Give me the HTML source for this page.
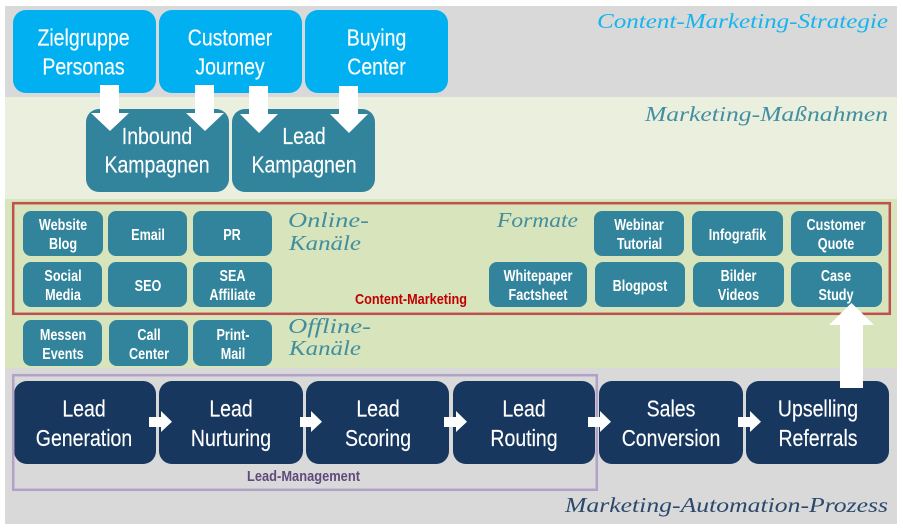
<!DOCTYPE html>
<html><head><meta charset="utf-8"><style>
html,body{margin:0;padding:0;background:#fff}
svg{display:block}
.b{font:23.5px "Liberation Sans",sans-serif;fill:#fff;stroke:#fff;stroke-width:.15;text-anchor:middle}
.s{font:bold 16px "Liberation Sans",sans-serif;fill:#fff;text-anchor:middle}
.h{font:italic 21px "Liberation Serif",serif;fill-opacity:.9}
</style></head><body>
<svg width="903" height="531" viewBox="0 0 903 531" xmlns="http://www.w3.org/2000/svg">
<rect width="903" height="531" fill="#fff"/>
<rect x="5" y="6" width="892" height="91" fill="#d9d9d9"/>
<rect x="5" y="97" width="892" height="102" fill="#ebf0de"/>
<rect x="5" y="199" width="892" height="169" fill="#d8e4bc"/>
<rect x="5" y="368" width="892" height="156" fill="#d9d9d9"/>

<g fill="#00b0f0">
<rect x="13" y="10" width="143" height="83" rx="13"/>
<rect x="159" y="10" width="143" height="83" rx="13"/>
<rect x="305" y="10" width="143" height="83" rx="13"/>
</g>
<g fill="#31849b">
<rect x="86" y="109" width="143" height="83" rx="13"/>
<rect x="232" y="109" width="143" height="83" rx="13"/>
<rect x="23" y="211" width="80" height="45" rx="8"/>
<rect x="108" y="211" width="79" height="45" rx="8"/>
<rect x="193" y="211" width="79" height="45" rx="8"/>
<rect x="23" y="262" width="79" height="45" rx="8"/>
<rect x="108" y="262" width="79" height="45" rx="8"/>
<rect x="193" y="262" width="79" height="45" rx="8"/>
<rect x="23" y="320" width="79" height="46" rx="8"/>
<rect x="109" y="320" width="79" height="46" rx="8"/>
<rect x="193" y="320" width="79" height="46" rx="8"/>
<rect x="594" y="211" width="90" height="45" rx="8"/>
<rect x="692" y="211" width="91" height="45" rx="8"/>
<rect x="791" y="211" width="91" height="45" rx="8"/>
<rect x="489" y="262" width="98" height="45" rx="8"/>
<rect x="595" y="262" width="90" height="45" rx="8"/>
<rect x="693" y="262" width="91" height="45" rx="8"/>
<rect x="791" y="262" width="91" height="45" rx="8"/>
</g>
<g fill="#17375e">
<rect x="14" y="381" width="142" height="83" rx="13"/>
<rect x="159" y="381" width="144" height="83" rx="13"/>
<rect x="306" y="381" width="143" height="83" rx="13"/>
<rect x="453" y="381" width="142" height="83" rx="13"/>
<rect x="599" y="381" width="144" height="83" rx="13"/>
<rect x="746" y="381" width="143" height="83" rx="13"/>
</g>

<rect x="13.2" y="203.2" width="876.6" height="110.6" fill="none" stroke="#c0504d" stroke-width="2.5"/>
<rect x="13.2" y="375.2" width="583.6" height="114.6" fill="none" stroke="#b3a2c7" stroke-width="2.5"/>

<g>
<text class="b" transform="translate(83.5,45.7) scale(.83,1)">Zielgruppe</text>
<text class="b" transform="translate(83.5,74.7) scale(.83,1)">Personas</text>
<text class="b" transform="translate(230,45.7) scale(.83,1)">Customer</text>
<text class="b" transform="translate(230,74.7) scale(.83,1)">Journey</text>
<text class="b" transform="translate(376.5,45.7) scale(.83,1)">Buying</text>
<text class="b" transform="translate(376.5,74.7) scale(.83,1)">Center</text>
<text class="b" transform="translate(157,144) scale(.83,1)">Inbound</text>
<text class="b" transform="translate(157,172.7) scale(.83,1)">Kampagnen</text>
<text class="b" transform="translate(304,144) scale(.83,1)">Lead</text>
<text class="b" transform="translate(304,172.7) scale(.83,1)">Kampagnen</text>
<text class="b" transform="translate(84,416.7) scale(.83,1)">Lead</text>
<text class="b" transform="translate(84,446) scale(.83,1)">Generation</text>
<text class="b" transform="translate(231,416.7) scale(.83,1)">Lead</text>
<text class="b" transform="translate(231,446) scale(.83,1)">Nurturing</text>
<text class="b" transform="translate(378,416.7) scale(.83,1)">Lead</text>
<text class="b" transform="translate(378,446) scale(.83,1)">Scoring</text>
<text class="b" transform="translate(524,416.7) scale(.83,1)">Lead</text>
<text class="b" transform="translate(524,446) scale(.83,1)">Routing</text>
<text class="b" transform="translate(671,416.7) scale(.83,1)">Sales</text>
<text class="b" transform="translate(671,446) scale(.83,1)">Conversion</text>
<text class="b" transform="translate(818,416.7) scale(.83,1)">Upselling</text>
<text class="b" transform="translate(818,446) scale(.83,1)">Referrals</text>
</g>

<g>
<text class="s" transform="translate(63,230) scale(.79,1)">Website</text>
<text class="s" transform="translate(63,249) scale(.79,1)">Blog</text>
<text class="s" transform="translate(148,240) scale(.79,1)">Email</text>
<text class="s" transform="translate(232,240) scale(.79,1)">PR</text>
<text class="s" transform="translate(63,281) scale(.79,1)">Social</text>
<text class="s" transform="translate(63,300) scale(.79,1)">Media</text>
<text class="s" transform="translate(148,291) scale(.79,1)">SEO</text>
<text class="s" transform="translate(232.5,281) scale(.79,1)">SEA</text>
<text class="s" transform="translate(232.5,300) scale(.79,1)">Affiliate</text>
<text class="s" transform="translate(63,340) scale(.79,1)">Messen</text>
<text class="s" transform="translate(63,359) scale(.79,1)">Events</text>
<text class="s" transform="translate(149,340) scale(.79,1)">Call</text>
<text class="s" transform="translate(149,359) scale(.79,1)">Center</text>
<text class="s" transform="translate(233,340) scale(.79,1)">Print-</text>
<text class="s" transform="translate(233,359) scale(.79,1)">Mail</text>
<text class="s" transform="translate(639,230) scale(.79,1)">Webinar</text>
<text class="s" transform="translate(639.5,249) scale(.79,1)">Tutorial</text>
<text class="s" transform="translate(737.5,240) scale(.79,1)">Infografik</text>
<text class="s" transform="translate(836,230) scale(.79,1)">Customer</text>
<text class="s" transform="translate(836,249) scale(.79,1)">Quote</text>
<text class="s" transform="translate(538,281) scale(.79,1)">Whitepaper</text>
<text class="s" transform="translate(538,300) scale(.79,1)">Factsheet</text>
<text class="s" transform="translate(640,291) scale(.79,1)">Blogpost</text>
<text class="s" transform="translate(738.5,281) scale(.79,1)">Bilder</text>
<text class="s" transform="translate(738.5,300) scale(.79,1)">Videos</text>
<text class="s" transform="translate(836,281) scale(.79,1)">Case</text>
<text class="s" transform="translate(836,300) scale(.79,1)">Study</text>
</g>

<text x="355" y="304" textLength="112" lengthAdjust="spacingAndGlyphs" style="font:bold 15px 'Liberation Sans',sans-serif;fill:#c00000">Content-Marketing</text>
<text x="247" y="481" textLength="113" lengthAdjust="spacingAndGlyphs" style="font:bold 15px 'Liberation Sans',sans-serif;fill:#604a7b">Lead-Management</text>

<text class="h" x="597" y="28" textLength="291" lengthAdjust="spacingAndGlyphs" fill="#00b0f0">Content-Marketing-Strategie</text>
<text class="h" x="645" y="121" textLength="243" lengthAdjust="spacingAndGlyphs" fill="#31849b">Marketing-Maßnahmen</text>
<text class="h" x="288" y="227" textLength="81" lengthAdjust="spacingAndGlyphs" fill="#31849b">Online-</text>
<text class="h" x="289" y="250" textLength="72" lengthAdjust="spacingAndGlyphs" fill="#31849b">Kanäle</text>
<text class="h" x="497" y="227" textLength="81" lengthAdjust="spacingAndGlyphs" fill="#31849b">Formate</text>
<text class="h" x="288" y="333" textLength="83" lengthAdjust="spacingAndGlyphs" fill="#31849b">Offline-</text>
<text class="h" x="289" y="355" textLength="72" lengthAdjust="spacingAndGlyphs" fill="#31849b">Kanäle</text>
<text class="h" x="565" y="512" textLength="323" lengthAdjust="spacingAndGlyphs" fill="#17375e">Marketing-Automation-Prozess</text>

<g fill="#fff">
<polygon points="100,85 119,85 119,113 129,113 110,131 91,113 100,113"/>
<polygon points="195,85 214,85 214,113 224,113 205,131 186,113 195,113"/>
<polygon points="249,86 268,86 268,114 278,114 259,133 240,114 249,114"/>
<polygon points="339,86 358,86 358,114 368,114 349,133 330,114 339,114"/>
<polygon points="149,417 161,417 161,411 172,421.7 161,432 161,427 149,427"/>
<polygon points="300,417 311,417 311,411 322,421.7 311,432 311,427 300,427"/>
<polygon points="444,417 456,417 456,411 467,421.7 456,432 456,427 444,427"/>
<polygon points="588,417 600,417 600,411 611,421.7 600,432 600,427 588,427"/>
<polygon points="738,417 750,417 750,411 761,421.7 750,432 750,427 738,427"/>
<polygon points="840,388 863,388 863,325 874,325 851.5,303 829,325 840,325"/>
</g>
</svg>
</body></html>
